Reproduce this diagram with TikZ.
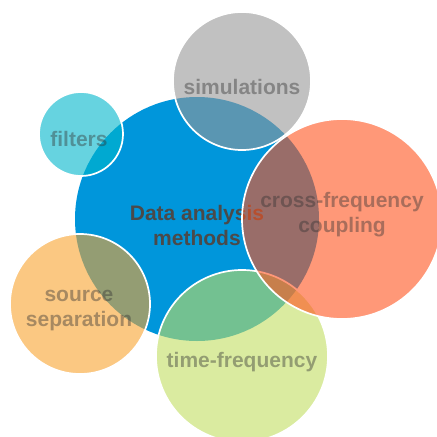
\documentclass[tikz,border=0pt]{standalone}
\usepackage{fontspec}
\setmainfont{Liberation Sans}
\definecolor{cblue}{RGB}{0,150,219}
\definecolor{ccyan}{RGB}{0,182,203}
\definecolor{cgray}{RGB}{151,151,151}
\definecolor{csrc}{RGB}{248,163,47}
\definecolor{ctf}{RGB}{193,222,97}
\definecolor{ccf}{RGB}{255,83,30}
\definecolor{maintext}{RGB}{74,74,74}
\definecolor{subtext}{RGB}{51,51,51}
\tikzset{
  bubble/.style={circle, inner sep=0pt, outer sep=0pt, fill opacity=0.6, draw=white, draw opacity=1, line width=1.7pt},
  label/.style={font=\fontsize{21}{25}\selectfont\bfseries, align=center, text=subtext, text opacity=0.42, inner sep=0pt},
  mainlabel/.style={font=\fontsize{21}{25}\selectfont\bfseries, align=center, text=maintext, inner sep=0pt}
}
\begin{document}
\begin{tikzpicture}[x=1pt,y=-1pt]
\useasboundingbox (0,0) rectangle (437,437);
\begin{scope}
\clip (0,0) rectangle (437,437);
\node[circle, inner sep=0pt, fill=cblue, minimum size=244pt] (center) at (197,219) {};
\node[mainlabel] (centertext) at (197,225) {Data analysis\\methods};
\node[bubble, fill=ccyan, minimum size=84pt] (filters) at (81,134) {};
\node[bubble, fill=cgray, minimum size=138pt] (sim) at (242,81) {};
\node[bubble, fill=csrc, minimum size=140pt] (src) at (80,304) {};
\node[bubble, fill=ctf, minimum size=172pt] (tf) at (242,356) {};
\node[bubble, fill=ccf, minimum size=200pt] (cf) at (342,219) {};
\node[label] (filterstext) at (79,139) {filters};
\node[label] (simtext) at (242,87) {simulations};
\node[label] (cftext) at (342,215) {cross-frequency\\coupling};
\node[label] (srctext) at (79,311) {source\\separation};
\node[label] (tftext) at (242,362) {time-frequency};
\end{scope}
\end{tikzpicture}
\end{document}
